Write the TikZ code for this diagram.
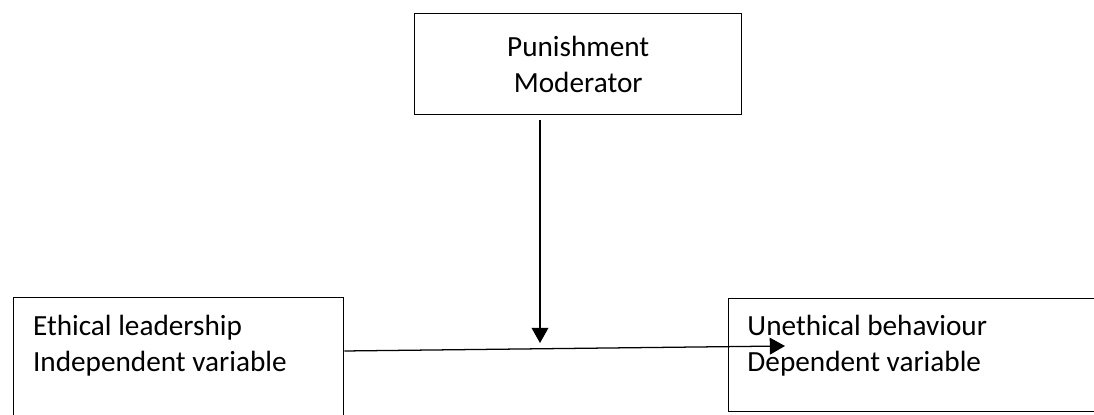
\documentclass[tikz,border=0pt]{standalone}
\usepackage{fontspec}
\setmainfont{Carlito}
\usetikzlibrary{arrows.meta}

\begin{document}
\begin{tikzpicture}[
    box/.style={draw, line width=1pt, inner sep=0pt},
    txt/.style={font=\fontsize{20.8}{25.8}\selectfont, inner sep=0pt},
    arrow/.style={line width=0.9pt, -{Triangle[length=0.38cm, width=0.42cm]}}
]
    % Canvas
    \useasboundingbox (0, 0) rectangle (27.35, 10.375);
    \clip (0, 0) rectangle (27.35, 10.375);

    % Moderator box (top)
    \node[box, txt, align=center, minimum width=8.175cm, minimum height=2.525cm, anchor=north west] (pun) at (10.35, 10.05) {Punishment\\Moderator};

    % Independent variable box (left, cut at the bottom)
    \node[box, minimum width=8.25cm, minimum height=3.6cm, anchor=north west] (lead) at (0.325, 2.95) {};
    \node[txt, align=left, anchor=base west] (leadtxt) at (0.82, 1.075) {Ethical leadership\\Independent variable};

    % Dependent variable box (right, cut at the side)
    \node[box, minimum width=9.6cm, minimum height=2.825cm, anchor=north west] (unet) at (18.2, 2.925) {};
    \node[txt, align=left, anchor=base west] (unettxt) at (18.68, 1.075) {Unethical behaviour\\Dependent variable};

    % Connectors
    \coordinate (meet) at (13.5, 1.8);
    \coordinate (tip) at (19.625, 1.725);
    \draw[arrow] (pun.south -| meet) ++(0, -0.125) -- (meet);
    \draw[arrow] (lead.north east) ++(0, -1.35) -- (tip);
\end{tikzpicture}
\end{document}
